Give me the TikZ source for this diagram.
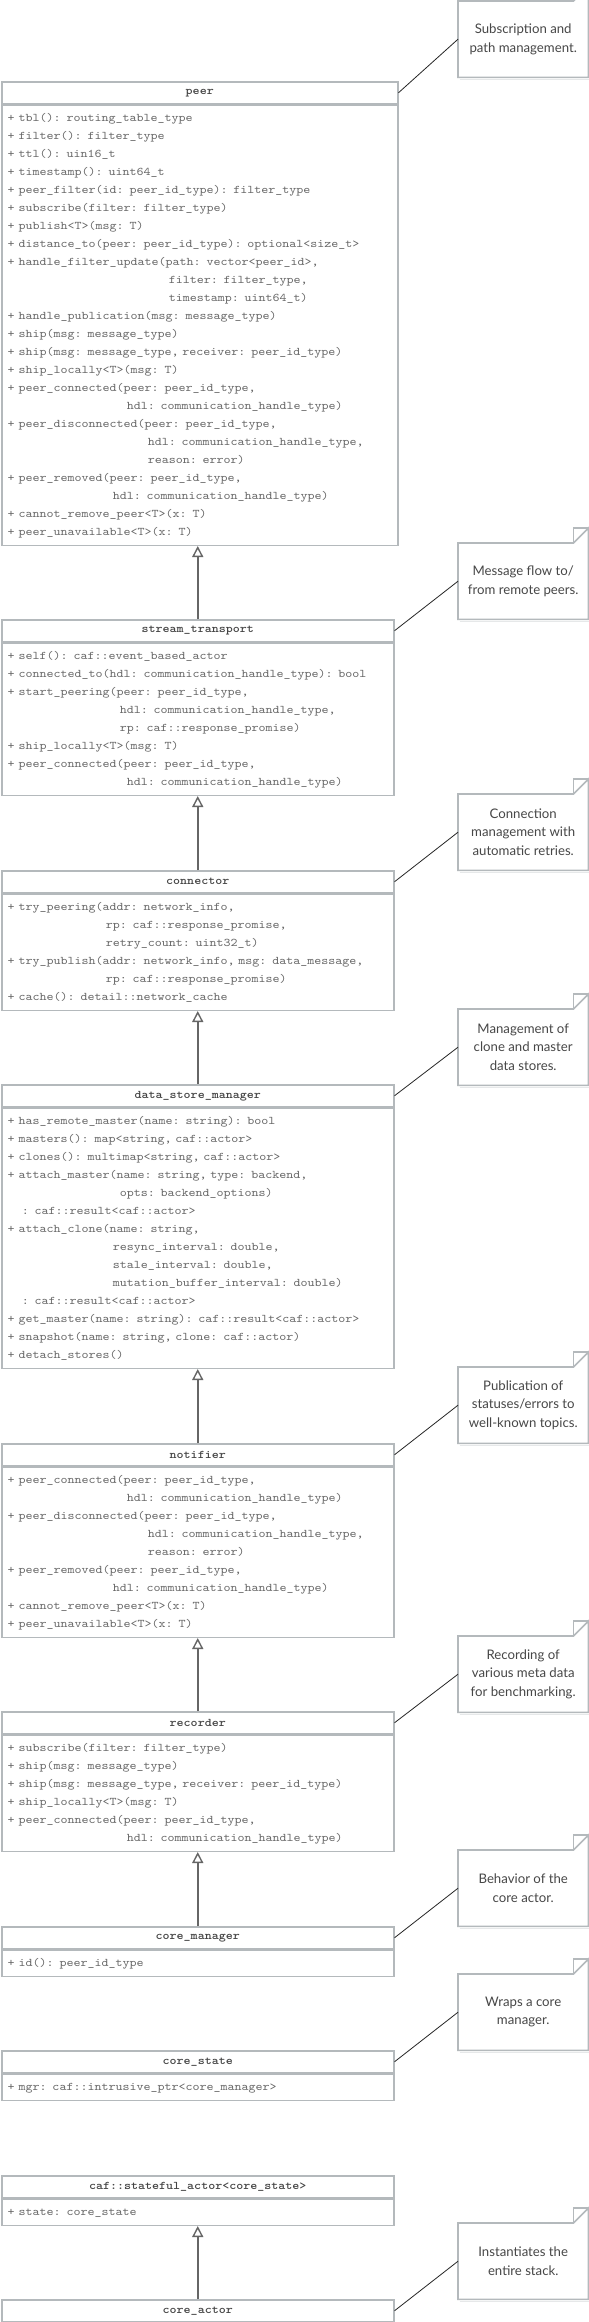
\documentclass[tikz,border=0pt]{standalone}
\usepackage{fontspec}
\setmonofont{lmmono10-regular.otf}[BoldFont=lmmonolt10-bold.otf, FakeStretch=1.14]
\newfontfamily\notefamily{Lato}
\usetikzlibrary{arrows.meta,calc}
\definecolor{boxline}{HTML}{B4B9BC}
\definecolor{hdrtext}{HTML}{444444}
\definecolor{bodytext}{HTML}{666666}
\definecolor{arrowgray}{HTML}{666666}
\definecolor{notetext}{HTML}{474747}
\definecolor{noteshadow}{HTML}{E6E8E9}
\newcommand\hdrfont{\ttfamily\bfseries\fontsize{11.7}{18}\selectfont}
\newcommand\bodyfont{\ttfamily\fontsize{11.7}{18}\selectfont}
\newcommand\notefont{\notefamily\fontsize{13.2}{18.3}\selectfont}
\newcommand\pad[1]{\hspace*{\dimexpr\fontcharwd\font`x*#1\relax}}
\newcommand\notedeco[1]{%
  \draw[noteshadow, line width=1.6pt] ($(#1.south west)+(1.5,2)$) -- ($(#1.south east)+(1.5,2)$)
     -- ($(#1.north east)+(1.5,-13)$);
  \draw[noteline] (#1.south west) -- (#1.north west) -- ($(#1.north east)+(-15,0)$)
     -- ($(#1.north east)+(0,-15)$) -- (#1.south east) -- cycle;
  \draw[noteline] ($(#1.north east)+(-15,0)$) |- ($(#1.north east)+(0,-15)$);
}
\tikzset{
  hdr/.style={draw=boxline, line width=1.5pt, anchor=north west, minimum height=22pt,
    inner sep=0pt, font=\hdrfont, text=hdrtext},
  body/.style={draw=boxline, line width=1.5pt, anchor=north west, inner xsep=6pt,
    inner ysep=4pt, align=left, font=\bodyfont, text=bodytext},
  wideh/.style={minimum width=396pt},
  normh/.style={minimum width=392pt},
  wideb/.style={text width=384pt},
  normb/.style={text width=380pt},
  notebox/.style={anchor=north west, minimum width=130pt, minimum height=76pt,
    inner sep=0pt, align=center, font=\notefont, text=notetext},
  noteline/.style={draw=boxline, line width=1.6pt, line join=miter},
  notelink/.style={draw=black!85, line width=0.8pt},
  inh/.style={draw=arrowgray, line width=2pt,
    -{Triangle[open, length=11pt, width=11pt, line width=1.4pt]}},
}
\begin{document}
\begin{tikzpicture}[x=1pt, y=-1pt]
\useasboundingbox (0,0) rectangle (589,2322);
\fill[white] (0,0) rectangle (589,2322);

% peer
\node[hdr, wideh] (peerH) at (1,81) {peer};
\node[body, wideh, wideb] (peerB) at (peerH.south west) {\strut+ tbl(): routing\_table\_type\\
+ filter(): filter\_type\\
+ ttl(): uin16\_t\\
+ timestamp(): uint64\_t\\
+ peer\_filter(id: peer\_id\_type): filter\_type\\
+ subscribe(filter: filter\_type)\\
+ publish<T>(msg: T)\\
+ distance\_to(peer: peer\_id\_type): optional<size\_t>\\
+ handle\_filter\_update(path: vector<peer\_id>,\\
\pad{23}filter: filter\_type,\\
\pad{23}timestamp: uint64\_t)\\
+ handle\_publication(msg: message\_type)\\
+ ship(msg: message\_type)\\
+ ship(msg: message\_type, receiver: peer\_id\_type)\\
+ ship\_locally<T>(msg: T)\\
+ peer\_connected(peer: peer\_id\_type,\\
\pad{17}hdl: communication\_handle\_type)\\
+ peer\_disconnected(peer: peer\_id\_type,\\
\pad{20}hdl: communication\_handle\_type,\\
\pad{20}reason: error)\\
+ peer\_removed(peer: peer\_id\_type,\\
\pad{15}hdl: communication\_handle\_type)\\
+ cannot\_remove\_peer<T>(x: T)\\
+ peer\_unavailable<T>(x: T)\strut};

% stream_transport
\node[hdr, normh] (stH) at (1,619) {stream\_transport};
\node[body, normh, normb] (stB) at (stH.south west) {\strut+ self(): caf::event\_based\_actor\\
+ connected\_to(hdl: communication\_handle\_type): bool\\
+ start\_peering(peer: peer\_id\_type,\\
\pad{16}hdl: communication\_handle\_type,\\
\pad{16}rp: caf::response\_promise)\\
+ ship\_locally<T>(msg: T)\\
+ peer\_connected(peer: peer\_id\_type,\\
\pad{17}hdl: communication\_handle\_type)\strut};

% connector
\node[hdr, normh] (conH) at (1,870) {connector};
\node[body, normh, normb] (conB) at (conH.south west) {\strut+ try\_peering(addr: network\_info,\\
\pad{14}rp: caf::response\_promise,\\
\pad{14}retry\_count: uint32\_t)\\
+ try\_publish(addr: network\_info, msg: data\_message,\\
\pad{14}rp: caf::response\_promise)\\
+ cache(): detail::network\_cache\strut};

% data_store_manager
\node[hdr, normh] (dsmH) at (1,1084) {data\_store\_manager};
\node[body, normh, normb] (dsmB) at (dsmH.south west) {\strut+ has\_remote\_master(name: string): bool\\
+ masters(): map<string, caf::actor>\\
+ clones(): multimap<string, caf::actor>\\
+ attach\_master(name: string, type: backend,\\
\pad{16}opts: backend\_options)\\
\pad{2}: caf::result<caf::actor>\\
+ attach\_clone(name: string,\\
\pad{15}resync\_interval: double,\\
\pad{15}stale\_interval: double,\\
\pad{15}mutation\_buffer\_interval: double)\\
\pad{2}: caf::result<caf::actor>\\
+ get\_master(name: string): caf::result<caf::actor>\\
+ snapshot(name: string, clone: caf::actor)\\
+ detach\_stores()\strut};

% notifier
\node[hdr, normh] (notH) at (1,1443) {notifier};
\node[body, normh, normb] (notB) at (notH.south west) {\strut+ peer\_connected(peer: peer\_id\_type,\\
\pad{17}hdl: communication\_handle\_type)\\
+ peer\_disconnected(peer: peer\_id\_type,\\
\pad{20}hdl: communication\_handle\_type,\\
\pad{20}reason: error)\\
+ peer\_removed(peer: peer\_id\_type,\\
\pad{15}hdl: communication\_handle\_type)\\
+ cannot\_remove\_peer<T>(x: T)\\
+ peer\_unavailable<T>(x: T)\strut};

% recorder
\node[hdr, normh] (recH) at (1,1711) {recorder};
\node[body, normh, normb] (recB) at (recH.south west) {\strut+ subscribe(filter: filter\_type)\\
+ ship(msg: message\_type)\\
+ ship(msg: message\_type, receiver: peer\_id\_type)\\
+ ship\_locally<T>(msg: T)\\
+ peer\_connected(peer: peer\_id\_type,\\
\pad{17}hdl: communication\_handle\_type)\strut};

% core_manager
\node[hdr, normh] (cmH) at (1,1926) {core\_manager};
\node[body, normh, normb] (cmB) at (cmH.south west) {\strut+ id(): peer\_id\_type\strut};

% core_state
\node[hdr, normh] (csH) at (1,2050) {core\_state};
\node[body, normh, normb] (csB) at (csH.south west) {\strut+ mgr: caf::intrusive\_ptr<core\_manager>\strut};

% caf::stateful_actor<core_state>
\node[hdr, normh] (saH) at (1,2175) {caf::stateful\_actor<core\_state>};
\node[body, normh, normb] (saB) at (saH.south west) {\strut+ state: core\_state\strut};

% core_actor
\node[hdr, normh] (caH) at (1,2299) {core\_actor};

% inheritance arrows
\draw[inh] (stH.north) -- (stH.north |- peerB.south);
\draw[inh] (conH.north) -- (conH.north |- stB.south);
\draw[inh] (dsmH.north) -- (dsmH.north |- conB.south);
\draw[inh] (notH.north) -- (notH.north |- dsmB.south);
\draw[inh] (recH.north) -- (recH.north |- notB.south);
\draw[inh] (cmH.north) -- (cmH.north |- recB.south);
\draw[inh] (caH.north) -- (caH.north |- saB.south);

% notes
\node[notebox] (n1) at (458,1) {Subscription and\\path management.};
\node[notebox] (n2) at (458,543) {Message flow to/\\from remote peers.};
\node[notebox] (n3) at (458,794) {Connection\\management with\\automatic retries.};
\node[notebox] (n4) at (458,1009) {Management of\\clone and master\\data stores.};
\node[notebox] (n5) at (458,1367) {Publication of\\statuses/errors to\\well-known topics.};
\node[notebox] (n6) at (458,1636) {Recording of\\various meta data\\for benchmarking.};
\node[notebox] (n7) at (458,1850) {Behavior of the\\core actor.};
\node[notebox] (n8) at (458,1974) {Wraps a core\\manager.};
\node[notebox] (n9) at (458,2223) {Instantiates the\\entire stack.};
\notedeco{n1}\notedeco{n2}\notedeco{n3}\notedeco{n4}\notedeco{n5}
\notedeco{n6}\notedeco{n7}\notedeco{n8}\notedeco{n9}

% note links
\draw[notelink] (peerH.east) -- (n1.west);
\draw[notelink] (stH.east) -- (n2.west);
\draw[notelink] (conH.east) -- (n3.west);
\draw[notelink] (dsmH.east) -- (n4.west);
\draw[notelink] (notH.east) -- (n5.west);
\draw[notelink] (recH.east) -- (n6.west);
\draw[notelink] (cmH.east) -- (n7.west);
\draw[notelink] (csH.east) -- (n8.west);
\draw[notelink] (caH.east) -- (n9.west);
\end{tikzpicture}
\end{document}
